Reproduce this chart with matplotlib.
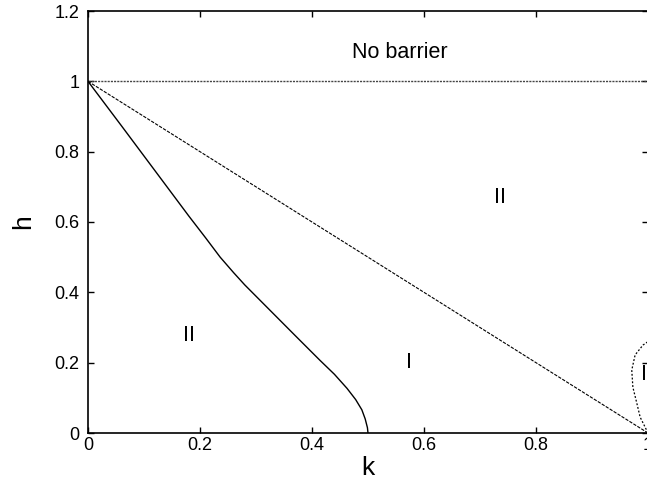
import matplotlib
matplotlib.use("Agg")
import matplotlib.pyplot as plt

plt.rcParams['font.family'] = ['Liberation Sans', 'DejaVu Sans']

# boundary between regions II and I (solid)
k_solid = [0.0, 0.06, 0.12, 0.18, 0.21, 0.236, 0.26, 0.28, 0.325, 0.37, 0.414,
           0.44, 0.4625, 0.478, 0.489, 0.495, 0.499, 0.5]
h_solid = [1.0, 0.873, 0.745, 0.617, 0.555, 0.5, 0.456, 0.421, 0.349, 0.277, 0.207,
           0.167, 0.127, 0.095, 0.066, 0.04, 0.015, 0.0]

# straight dashed boundary h = 1 - k
k_dash = [0.0, 1.0]
h_dash = [1.0, 0.0]

# no-barrier line
k_top = [0.0, 1.0]
h_top = [1.0, 1.0]

# small dotted loop near k = 1
k_loop = [1.0, 0.986, 0.98, 0.973, 0.971, 0.977, 0.991, 1.002]
h_loop = [0.0, 0.045, 0.085, 0.13, 0.179, 0.222, 0.25, 0.262]

labels = ["No barrier", "II", "II", "I", "I"]
label_k = [0.557, 0.736, 0.18, 0.573, 0.992]
label_h = [1.082, 0.67, 0.278, 0.2, 0.165]

fig = plt.figure(figsize=(6.47, 4.91), dpi=100)
ax = fig.add_axes([88 / 647, 58 / 491, 560 / 647, 422 / 491])

ax.plot(k_top, h_top, color='#444444', lw=1.0, ls=(0, (1.5, 0.8)))
ax.plot(k_dash, h_dash, color='black', lw=0.8, ls=(0, (3, 1.2)))
ax.plot(k_solid, h_solid, color='black', lw=1.0)
ax.plot(k_loop, h_loop, color='black', lw=0.9, ls=(0, (1.5, 1.5)))

for t, x, y in zip(labels, label_k, label_h):
    ax.text(x, y, t, fontsize=15.5, ha='center', va='center')

ax.set_xlim(0, 1)
ax.set_ylim(0, 1.2)
ax.set_xticks([0, 0.2, 0.4, 0.6, 0.8, 1.0])
ax.set_xticklabels(['0', '0.2', '0.4', '0.6', '0.8', '1'])
ax.set_yticks([0, 0.2, 0.4, 0.6, 0.8, 1.0, 1.2])
ax.set_yticklabels(['0', '0.2', '0.4', '0.6', '0.8', '1', '1.2'])
ax.tick_params(direction='in', length=4, width=1, top=True, right=True, labelsize=13)
ax.tick_params(axis='x', pad=3)
ax.tick_params(axis='y', pad=6)
for s in ax.spines.values():
    s.set_linewidth(1.2)

ax.set_xlabel('k', fontsize=19, labelpad=1)
ax.set_ylabel('h', fontsize=19, labelpad=14)

fig.savefig('out.png', dpi=100)
